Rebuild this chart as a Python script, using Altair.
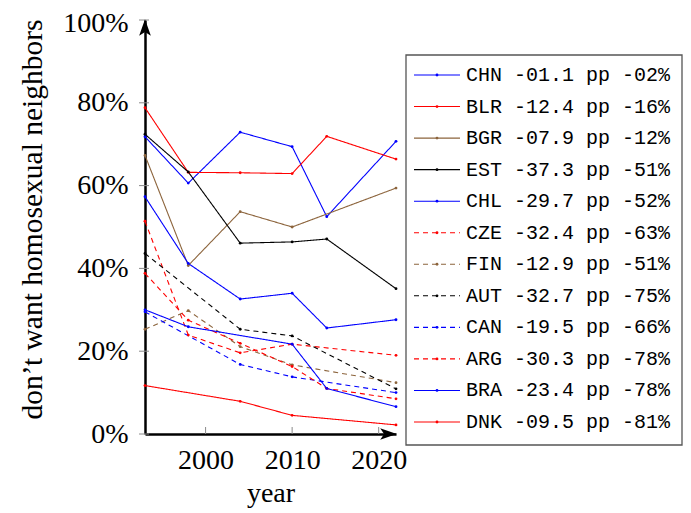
import altair as alt
import pandas as pd

# ---- legend / series metadata ----
codes = ["CHN", "BLR", "BGR", "EST", "CHL", "CZE", "FIN", "AUT", "CAN", "ARG", "BRA", "DNK"]
pp_change = ["-01.1", "-12.4", "-07.9", "-37.3", "-29.7", "-32.4", "-12.9", "-32.7", "-19.5", "-30.3", "-23.4", "-09.5"]
pct_change = ["-02%", "-16%", "-12%", "-51%", "-52%", "-63%", "-51%", "-75%", "-66%", "-78%", "-78%", "-81%"]

BROWN = "#8c643c"
colors = ["#0000ff", "#ff0000", BROWN, "#000000", "#0000ff", "#ff0000",
          BROWN, "#000000", "#0000ff", "#ff0000", "#0000ff", "#ff0000"]
dashes = [[1, 0]] * 5 + [[5, 4]] * 5 + [[1, 0]] * 2

# ---- series values (share of people who don't want homosexual neighbors, %) ----
chn_years = [1993, 1998, 2004, 2010, 2014, 2022]
chn_vals = [71.8, 60.6, 72.9, 69.4, 52.5, 70.7]
blr_years = [1993, 1998, 2004, 2010, 2014, 2022]
blr_vals = [78.8, 63.2, 63.1, 62.9, 71.9, 66.4]
bgr_years = [1993, 1998, 2004, 2010, 2022]
bgr_vals = [67.3, 40.7, 53.7, 50.0, 59.4]
est_years = [1993, 1998, 2004, 2010, 2014, 2022]
est_vals = [72.4, 63.3, 46.1, 46.4, 47.1, 35.1]
chl_years = [1993, 1998, 2004, 2010, 2014, 2022]
chl_vals = [57.3, 41.2, 32.6, 34.0, 25.6, 27.6]
cze_years = [1993, 1998, 2004, 2010, 2022]
cze_vals = [51.4, 23.9, 19.6, 21.7, 19.0]
fin_years = [1993, 1998, 2004, 2010, 2022]
fin_vals = [25.3, 29.8, 21.1, 16.7, 12.4]
aut_years = [1993, 2004, 2010, 2022]
aut_vals = [43.6, 25.3, 23.7, 10.9]
can_years = [1993, 2004, 2010, 2022]
can_vals = [29.5, 16.8, 13.8, 10.0]
arg_years = [1993, 1998, 2004, 2010, 2014, 2022]
arg_vals = [38.8, 27.5, 21.9, 16.3, 11.0, 8.5]
bra_years = [1993, 1998, 2010, 2014, 2022]
bra_vals = [30.0, 25.9, 21.7, 11.0, 6.6]
dnk_years = [1993, 2004, 2010, 2022]
dnk_vals = [11.7, 7.9, 4.5, 2.2]

x_ticks = [2000, 2010, 2020]
y_ticks = [0, 20, 40, 60, 80, 100]

series = {
    "CHN": (chn_years, chn_vals), "BLR": (blr_years, blr_vals),
    "BGR": (bgr_years, bgr_vals), "EST": (est_years, est_vals),
    "CHL": (chl_years, chl_vals), "CZE": (cze_years, cze_vals),
    "FIN": (fin_years, fin_vals), "AUT": (aut_years, aut_vals),
    "CAN": (can_years, can_vals), "ARG": (arg_years, arg_vals),
    "BRA": (bra_years, bra_vals), "DNK": (dnk_years, dnk_vals),
}
rows = []
for c in codes:
    ys, vs = series[c]
    for yr, v in zip(ys, vs):
        rows.append({"country": c, "year": yr, "value": v})
df = pd.DataFrame(rows)

leg_df = pd.DataFrame({
    "country": codes,
    "label": [f"{c} {p} pp {q}" for c, p, q in zip(codes, pp_change, pct_change)],
})

W, H = 251, 414
SERIF = "Liberation Serif"
MONO = "Liberation Mono"

color_enc = alt.Color("country:N", scale=alt.Scale(domain=codes, range=colors), legend=None)
dash_enc = alt.StrokeDash("country:N", scale=alt.Scale(domain=codes, range=dashes), legend=None)
xscale = alt.Scale(domain=[1993, 2022], nice=False, zero=False)
yscale = alt.Scale(domain=[0, 100], nice=False)

lines = alt.Chart(df).mark_line(
    strokeWidth=1.1, point=alt.OverlayMarkDef(filled=True, size=8)
).encode(
    x=alt.X("year:Q", scale=xscale, axis=alt.Axis(
        values=x_ticks, format="d", ticks=False, grid=False,
        domainColor="black", domainWidth=2.5,
        labelFont=SERIF, labelFontSize=28, labelColor="black", labelPadding=12,
        title="year", titleFont=SERIF, titleFontSize=28, titleFontWeight="normal",
        titleColor="black", titleX=W / 2, titleY=67, titleBaseline="alphabetic")),
    y=alt.Y("value:Q", scale=yscale, axis=alt.Axis(
        values=y_ticks, labelExpr="datum.value + '%'", ticks=False, grid=False,
        domainColor="black", domainWidth=2.5,
        labelFont=SERIF, labelFontSize=28, labelColor="black", labelPadding=17,
        labelOffset={"condition": {"test": "datum.value == 100", "value": 3}, "value": 0},
        title="don’t want homosexual neighbors", titleFont=SERIF, titleFontSize=29.5,
        titleFontWeight="normal", titleColor="black", titleAngle=270,
        titleX=-113, titleY=199, titleBaseline="middle", titleAlign="center")),
    color=color_enc,
    strokeDash=dash_enc,
    detail="country:N",
)

ytick_layer = alt.Chart(pd.DataFrame({"value": y_ticks})).mark_rule(
    color="#8a8a8a", strokeWidth=1
).encode(
    y=alt.Y("value:Q", scale=yscale, axis=None),
    x=alt.value(-6), x2=alt.value(4),
)
xtick_layer = alt.Chart(pd.DataFrame({"year": x_ticks})).mark_rule(
    color="#8a8a8a", strokeWidth=1
).encode(
    x=alt.X("year:Q"),
    y=alt.value(H - 7), y2=alt.value(H),
)

ARROW = "M0,-1L0.6,0.7L0,0.3L-0.6,0.7Z"
one = pd.DataFrame({"a": [0]})
arrow_up = alt.Chart(one).mark_point(
    shape=ARROW, filled=True, color="black", size=380, opacity=1
).encode(x=alt.value(0), y=alt.value(9))
arrow_right = alt.Chart(one).mark_point(
    shape=ARROW, filled=True, color="black", size=380, opacity=1, angle=90
).encode(x=alt.value(W - 9), y=alt.value(H))

legend_box = alt.Chart(one).mark_rect(
    fill="white", stroke="#555555", strokeWidth=1.3
).encode(x=alt.value(261), x2=alt.value(537), y=alt.value(35), y2=alt.value(425))

leg_y = alt.Y("country:N", sort=codes,
              scale=alt.Scale(type="point", domain=codes, range=[55, 402], padding=0),
              axis=None)
legend_lines = alt.Chart(leg_df).mark_rule(strokeWidth=1.1).encode(
    x=alt.value(269), x2=alt.value(315), y=leg_y, color=color_enc, strokeDash=dash_enc,
)
legend_dots = alt.Chart(leg_df).mark_point(filled=True, size=8, opacity=1).encode(
    x=alt.value(292), y=leg_y, color=color_enc,
)
legend_text = alt.Chart(leg_df).mark_text(
    align="left", baseline="middle", font=MONO, fontSize=20, color="black"
).encode(x=alt.value(321), y=leg_y, text="label:N")

chart = alt.layer(
    ytick_layer, xtick_layer, lines, arrow_up, arrow_right,
    legend_box, legend_lines, legend_dots, legend_text,
).resolve_scale(
    y="independent"
).properties(
    width=W, height=H,
    autosize=alt.AutoSizeParams(type="none"),
    padding={"left": 137, "top": 12, "right": 287, "bottom": 75},
).configure_view(stroke=None)

chart.save("out.html", embed_options={"renderer": "svg", "actions": False})
